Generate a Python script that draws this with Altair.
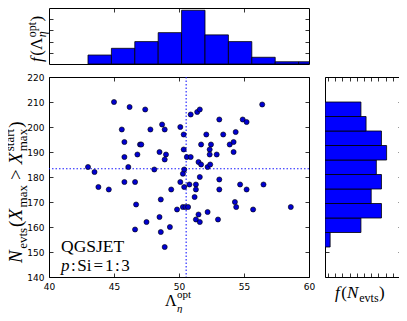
import altair as alt
import numpy as np
import pandas as pd

# Scatter values (Lambda_eta^opt, N_evts); last point lies outside the x-range (clipped)
lam = [45.0, 46.2, 47.4, 45.6, 45.8, 45.8, 46.1, 45.8, 43.0, 43.5, 43.8, 44.6, 46.62, 46.7, 46.62,
       47.5, 46.8, 47.0, 47.1, 47.8, 48.1, 48.7, 48.9, 48.5, 49.0, 48.9, 48.6, 48.5, 48.9, 48.6,
       49.3, 49.4, 49.85, 50.1, 50.1, 50.36, 50.36, 50.3, 50.4, 50.4, 50.6, 50.9, 50.8, 50.9, 50.3,
       50.5, 50.7, 51.4, 51.6, 51.3, 51.3, 51.2, 51.3, 51.5, 51.6, 51.5, 51.7, 51.6, 51.7, 52.2,
       52.1, 52.2, 53.1, 53.4, 52.46, 52.36, 52.36, 52.9, 52.4, 53.1, 53.1, 53.0, 53.9, 54.2, 54.36,
       54.9, 55.2, 54.2, 54.7, 55.2, 54.3, 54.4, 55.7, 58.6, 56.4, 56.5, 61.0]
nev = [210, 208, 207, 199, 194, 188, 184, 178, 184, 182, 176, 175, 178, 169, 159,
       162, 189, 193, 193, 199, 183, 201, 199, 190, 189, 187, 171, 164, 152, 158,
       160, 175, 167, 178, 200, 197, 191, 181.3, 183, 176, 188, 188, 177, 205, 168,
       168, 168, 206, 207, 177, 175, 172, 163, 165, 162, 186, 185, 180, 193, 184,
       197, 166, 203, 197, 193, 191, 189, 189, 185, 179, 175, 163, 193, 194, 198,
       203, 202, 190, 177, 175, 170, 168, 167, 168, 209, 177, 172]
ref_lam = [50.55]
ref_nev = [183.3]

x_ticks = [40, 45, 50, 55, 60]
y_ticks = [140, 150, 160, 170, 180, 190, 200, 210, 220]
top_x_ticks = [45, 50, 55]
top_y_ticks = [5, 10, 15, 20]
right_x_ticks = [0.6, 2.0, 3.4, 4.8, 6.2, 7.6, 9.0, 10.4, 11.8, 13.2, 14.6]

cx, ex = np.histogram(lam, bins=10)
cy, ey = np.histogram(nev, bins=10)
hx = pd.DataFrame({"lo": ex[:-1], "hi": ex[1:], "count": cx, "base": 0})
hy = pd.DataFrame({"lo": ey[:-1], "hi": ey[1:], "count": cy, "base": 0})
pts = pd.DataFrame({"lam": lam, "nev": nev})
vline = pd.DataFrame({"v": ref_lam})
hline = pd.DataFrame({"v": ref_nev})
DUMMY = pd.DataFrame({"k": [0]})

SERIF = "Liberation Serif"
W = {'N': .667, 'X': .611, 'f': .278, 'p': .5, 'e': .444, 'v': .5, 't': .278, 's': .389, 'm': .778,
     'a': .444, 'x': .5, 'r': .333, 'o': .5, '(': .333, ')': .333, '>': .564, '=': .564, ':': .278,
     '1': .5, '3': .5, 'S': .556, 'i': .278, 'Λ': .722, 'η': .5, 'Q': .722, 'G': .722, 'J': .389,
     'E': .611, 'T': .611, ' ': .25}


def textw(s, size):
    return sum(W.get(c, .5) for c in s) * size


def run(items, x0, y0, rotated=False):
    out = []
    cur = 0.0
    for it in items:
        if isinstance(it, (int, float)):
            cur += it
            continue
        text, size, italic, dy, adv = it
        if rotated:
            px, py, ang = x0 + dy, y0 - cur, 270
        else:
            px, py, ang = x0 + cur, y0 + dy, 0
        out.append(alt.Chart(DUMMY).mark_text(
            text=text, font=SERIF, fontSize=size, fontStyle="italic" if italic else "normal",
            align="left", baseline="alphabetic", angle=ang, color="black"
        ).encode(x=alt.value(px), y=alt.value(py)))
        if adv:
            cur += textw(text, size)
    return out


def ax(orient, values, labels=False):
    return alt.Axis(orient=orient, values=values, tickSize=4, offset=-4, labels=labels,
                    domain=False, grid=False, title=None, ticks=True, tickColor="black",
                    tickWidth=0.8, labelFont="DejaVu Sans", labelFontSize=9, labelColor="black",
                    labelPadding=5, labelFlush=False, labelOverlap=False)


xs = alt.Scale(domain=[40, 60], nice=False, zero=False)
ys = alt.Scale(domain=[140, 220], nice=False, zero=False)
ts = alt.Scale(domain=[0, 25], nice=False)
rs = alt.Scale(domain=[0, 15], nice=False)

# ---------- main scatter ----------
vr = alt.Chart(vline).mark_rule(stroke="#1a1aff", strokeDash=[1.5, 2], strokeWidth=1.1).encode(
    x=alt.X("v:Q", scale=xs, axis=None))
hr = alt.Chart(hline).mark_rule(stroke="#1a1aff", strokeDash=[1.5, 2], strokeWidth=1.1).encode(
    y=alt.Y("v:Q", scale=ys, axis=None))
sc = alt.Chart(pts).mark_circle(size=26, color="#0000d0", stroke="black", strokeWidth=0.6,
                                opacity=1, clip=True).encode(
    x=alt.X("lam:Q", scale=xs, axis=ax("bottom", x_ticks, True)),
    y=alt.Y("nev:Q", scale=ys, axis=ax("left", y_ticks, True)))
mir = alt.Chart(pts).mark_point(opacity=0, clip=True).encode(
    x=alt.X("lam:Q", scale=xs, axis=ax("top", x_ticks)),
    y=alt.Y("nev:Q", scale=ys, axis=ax("right", y_ticks)))

ytitle = run([("N", 19, True, 0, True), 1.5, ("evts", 13, False, 4.5, True), 1,
              ("(", 19, False, 0, True), ("X", 19, True, 0, True), 1.5,
              ("max", 13, False, 4.5, True), 5, (">", 19, False, 0, True), 5,
              ("X", 19, True, 0, True), 1.5, ("max", 13, False, 4.5, False),
              ("start", 13, False, -8, True), 1, (")", 19, False, 0, True)],
             -27, 186, rotated=True)
xtitle = run([("Λ", 16, False, 0, True), 0.5, ("η", 11, True, 5.5, False), ("opt", 11, False, -8, True)],
             116, 229)
lab1 = run([("QGSJET", 17.5, False, 0, True)], 12, 175)
lab2 = run([("p", 17, True, 0, True), 1.5, (":", 17, False, 0, True), 1.5, ("Si", 17, False, 0, True), 2,
            ("=", 17, False, 0, True), 2, ("1", 17, False, 0, True), 1.5, (":", 17, False, 0, True), 1.5,
            ("3", 17, False, 0, True)], 12, 194)

main = alt.layer(vr, hr, sc, mir, *ytitle, *xtitle, *lab1, *lab2).properties(
    width=260, height=200).resolve_axis(x="independent", y="independent")

# ---------- top histogram ----------
tb = alt.Chart(hx).mark_bar(color="#0000ff", stroke="black", strokeWidth=0.8, clip=True).encode(
    x=alt.X("lo:Q", scale=xs, axis=ax("bottom", top_x_ticks)), x2="hi:Q",
    y=alt.Y("count:Q", scale=ts, axis=ax("left", top_y_ticks)), y2="base:Q")
tm = alt.Chart(hx).mark_point(opacity=0, clip=True).encode(
    x=alt.X("lo:Q", scale=xs, axis=ax("top", top_x_ticks)),
    y=alt.Y("count:Q", scale=ts, axis=ax("right", top_y_ticks)))
ttitle = run([("f", 17, True, 0, True), 1.5, ("(", 17, False, 0, True), ("Λ", 17, False, 0, True), 0.5,
              ("η", 12, True, 4, False), ("opt", 12, False, -6.5, True), 0.5, (")", 17, False, 0, True)],
             -7, 54, rotated=True)
top = alt.layer(tb, tm, *ttitle).properties(width=260, height=56).resolve_axis(
    x="independent", y="independent")

# ---------- right histogram ----------
rb = alt.Chart(hy).mark_bar(color="#0000ff", stroke="black", strokeWidth=0.8, clip=True).encode(
    y=alt.Y("lo:Q", scale=ys, axis=ax("left", y_ticks)), y2="hi:Q",
    x=alt.X("count:Q", scale=rs, axis=ax("bottom", right_x_ticks)), x2="base:Q")
rm = alt.Chart(hy).mark_point(opacity=0, clip=True).encode(
    y=alt.Y("lo:Q", scale=ys, axis=ax("right", y_ticks)),
    x=alt.X("count:Q", scale=rs, axis=ax("top", right_x_ticks)))
rtitle = run([("f", 17, True, 0, True), 1.5, ("(", 17, False, 0, True), ("N", 17, True, 0, True), 1,
              ("evts", 12, False, 4, True), 0.5, (")", 17, False, 0, True)], 10, 221)
right = alt.layer(rb, rm, *rtitle).properties(width=77, height=200).resolve_axis(
    x="independent", y="independent")

chart = alt.vconcat(
    top,
    alt.hconcat(main, right, spacing=16, bounds="flush"),
    spacing=13, bounds="flush"
).properties(
    autosize=alt.AutoSizeParams(type="none"),
    padding={"left": 41, "top": 0, "right": 350, "bottom": 305}, background="white"
).configure_view(stroke="black", strokeWidth=1)

chart.save("out.html", embed_options={"renderer": "svg", "actions": False})
